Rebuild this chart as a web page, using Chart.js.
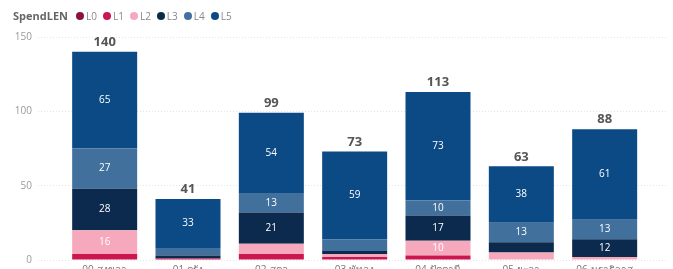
<!DOCTYPE html>
<html>
<head>
<meta charset="utf-8">
<script src="https://cdn.jsdelivr.net/npm/chart.js@4.4.1/dist/chart.umd.min.js"></script>
<style>
  html, body { margin: 0; padding: 0; background: #fff; overflow: hidden; }
  #wrap { position: relative; width: 673px; height: 280px; }
  #legend { position: absolute; left: 13px; top: 8px; display: flex; align-items: center;
            font-family: "Open Sans", "Noto Sans", sans-serif; font-size: 10px; color: #888; }
  #legend b { color: #666; font-size: 11px; margin-right: 8px; }
  #legend .item { display: flex; align-items: center; margin-right: 6px; }
  #legend .dot { width: 8px; height: 8px; border-radius: 50%; margin-right: 2px; }
</style>
</head>
<body>
<div id="wrap">
  <div id="legend"><b>SpendLEN</b></div>
  <canvas id="chart" width="673" height="280"></canvas>
</div>
<script>
// categories + series (bottom to top)
var provinces = ["00-สงขลา", "01-ตรัง", "02-สตูล", "03-พัทลุง", "04-ปัตตานี", "05-ยะลา", "06-นราธิวาส"];
var L0 = [0, 0, 0, 0, 0, 0, 0];
var L1 = [4, 1, 4, 2, 3, 0, 0];
var L2 = [16, 0, 7, 2, 10, 5, 2];
var L3 = [28, 2, 21, 2, 17, 7, 12];
var L4 = [27, 5, 13, 8, 10, 13, 13];
var L5 = [65, 33, 54, 59, 73, 38, 61];
var yTicks = [0, 50, 100, 150];

var seriesNames = ["L0", "L1", "L2", "L3", "L4", "L5"];
var seriesData = [L0, L1, L2, L3, L4, L5];
var seriesColors = ["#8b1538", "#cc1650", "#f6a9bd", "#0b2a4e", "#41709c", "#0c4a86"];

var fontFam = '"Open Sans", "Noto Sans", sans-serif';

// legend (html)
var legend = document.getElementById('legend');
seriesNames.forEach((name, i) => {
    var it = document.createElement('span');
    it.className = 'item';
    it.innerHTML = '<span class="dot" style="background:' + seriesColors[i] + '"></span>' + name;
    legend.appendChild(it);
});

var datasets = seriesNames.map((name, i) => ({
    label: name,
    data: seriesData[i].map((v, k) => ({ x: k, y: v })),
    backgroundColor: seriesColors[i],
    borderWidth: 0,
    categoryPercentage: 1,
    barPercentage: 0.78
}));

// white numbers inside segments + totals on top
var labelsPlugin = {
    id: 'labelsPlugin',
    afterDatasetsDraw(chart) {
        var ctx = chart.ctx;
        ctx.save();
        ctx.textAlign = 'center';
        ctx.textBaseline = 'middle';
        ctx.font = '10px ' + fontFam;
        ctx.fillStyle = '#fff';
        chart.data.datasets.forEach((ds, i) => {
            var meta = chart.getDatasetMeta(i);
            meta.data.forEach((bar, k) => {
                var v = seriesData[i][k];
                if (v >= 10) {
                    var c = bar.getCenterPoint();
                    ctx.fillText(v, c.x, c.y);
                }
            });
        });
        ctx.font = 'bold 13px ' + fontFam;
        ctx.fillStyle = '#555';
        ctx.textBaseline = 'bottom';
        provinces.forEach((p, k) => {
            var total = 0;
            seriesData.forEach(s => { total += s[k]; });
            var x = chart.scales.x.getPixelForValue(k);
            var y = chart.scales.y.getPixelForValue(total);
            ctx.fillText(total, x, y - 3);
        });
        ctx.restore();
    }
};

var chart = new Chart(document.getElementById('chart'), {
    type: 'bar',
    data: { datasets: datasets },
    options: {
        responsive: false,
        animation: false,
        layout: { padding: { top: 37, right: 5, left: 0, bottom: 0 } },
        plugins: { legend: { display: false }, tooltip: { enabled: false } },
        scales: {
            x: {
                type: 'linear',
                stacked: true,
                offset: false,
                min: -0.8,
                max: 6.76,
                grid: { display: false, drawTicks: false },
                border: { display: false },
                afterFit: s => { s.height = 20; },
                afterBuildTicks: s => { s.ticks = provinces.map((p, k) => ({ value: k })); },
                ticks: {
                    padding: 4,
                    autoSkip: false,
                    maxRotation: 0,
                    color: '#777',
                    font: { family: fontFam, size: 10 },
                    callback: v => provinces[v]
                }
            },
            y: {
                stacked: true,
                min: 0,
                max: 150,
                afterFit: s => { s.width = 38; },
                afterBuildTicks: s => { s.ticks = yTicks.map(v => ({ value: v })); },
                grid: { color: '#e4e4e4', drawTicks: false, lineWidth: 1 },
                border: { display: false, dash: [1, 2] },
                ticks: {
                    padding: 6,
                    color: '#999',
                    font: { family: fontFam, size: 10 }
                }
            }
        }
    },
    plugins: [labelsPlugin]
});
</script>
</body>
</html>
